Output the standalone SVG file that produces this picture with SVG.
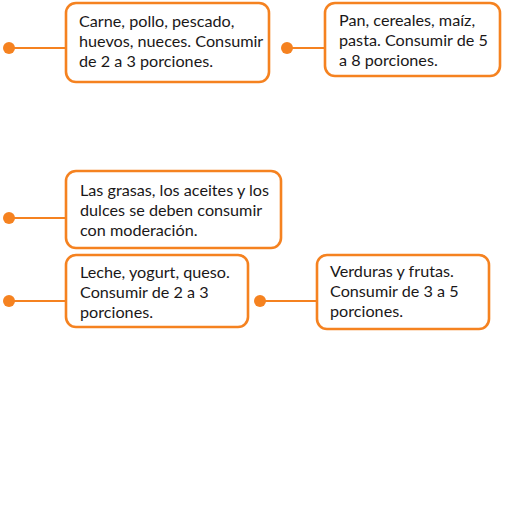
<svg xmlns="http://www.w3.org/2000/svg" width="512" height="512" viewBox="0 0 512 512">
<style>
.box{fill:#fff;stroke:#f58220;stroke-width:2.6}
.ln{stroke:#f58220;stroke-width:2}
.dot{fill:#f58220}
text{font-family:Lato,"Liberation Sans",sans-serif;font-size:16.2px;fill:#1a1718}
</style>
<rect width="512" height="512" fill="#fff"/>
<g id="connectors">
<line class="ln" x1="9" y1="48" x2="66" y2="48"/><circle class="dot" cx="9" cy="48" r="6"/>
<line class="ln" x1="287" y1="48" x2="325" y2="48"/><circle class="dot" cx="287" cy="48" r="6"/>
<line class="ln" x1="9" y1="218" x2="66" y2="218"/><circle class="dot" cx="9" cy="218" r="6"/>
<line class="ln" x1="9" y1="301" x2="66" y2="301"/><circle class="dot" cx="9" cy="301" r="6"/>
<line class="ln" x1="260" y1="301" x2="317" y2="301"/><circle class="dot" cx="260" cy="301" r="6"/>
</g>
<g id="n1"><rect class="box" x="66" y="3" width="203" height="79" rx="10"/>
<text x="79" y="27">Carne, pollo, pescado,</text><text x="79" y="47">huevos, nueces. Consumir</text><text x="79" y="67">de 2 a 3 porciones.</text></g>
<g id="n2"><rect class="box" x="325" y="3" width="175" height="73" rx="10"/>
<text x="339" y="26">Pan, cereales, maíz,</text><text x="339" y="46">pasta. Consumir de 5</text><text x="339" y="66">a 8 porciones.</text></g>
<g id="n3"><rect class="box" x="66" y="171" width="215" height="77" rx="10"/>
<text x="80" y="196">Las grasas, los aceites y los</text><text x="80" y="216">dulces se deben consumir</text><text x="80" y="236">con moderación.</text></g>
<g id="n4"><rect class="box" x="66" y="255" width="182" height="72" rx="10"/>
<text x="80" y="278">Leche, yogurt, queso.</text><text x="80" y="298">Consumir de 2 a 3</text><text x="80" y="318">porciones.</text></g>
<g id="n5"><rect class="box" x="317" y="255" width="172" height="74" rx="10"/>
<text x="330" y="277">Verduras y frutas.</text><text x="330" y="297">Consumir de 3 a 5</text><text x="330" y="317">porciones.</text></g>
</svg>
